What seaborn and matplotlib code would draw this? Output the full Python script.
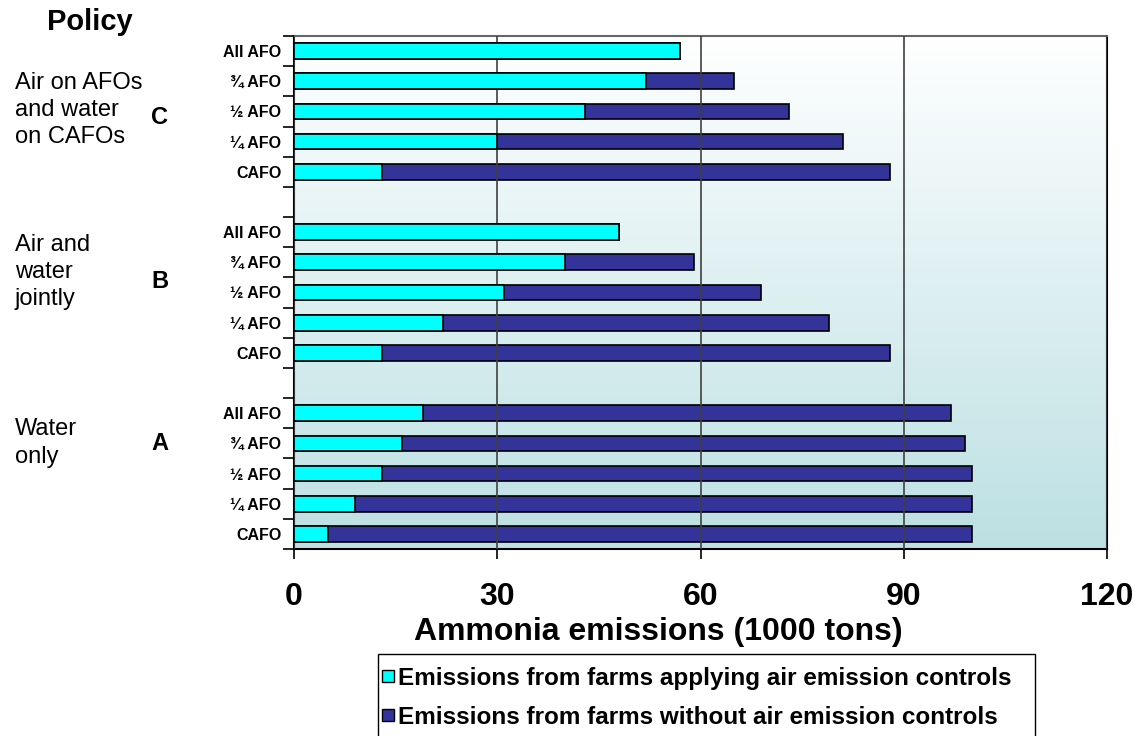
import numpy as np
import pandas as pd
import matplotlib
matplotlib.use('Agg')
import matplotlib.pyplot as plt
from matplotlib.colors import LinearSegmentedColormap
from matplotlib.patches import Rectangle
from matplotlib.lines import Line2D
import seaborn as sns

# bar labels inside each policy group (top to bottom)
bar_labels = ['All AFO', '\u00be AFO', '\u00bd AFO', '\u00bc AFO', 'CAFO']
groups = ['C', 'B', 'A']
group_names = ['Air on AFOs\nand water\non CAFOs', 'Air and\nwater\njointly', 'Water\nonly']

# emissions from farms applying air controls (1000 tons)
air_C = [57, 52, 43, 30, 13]
air_B = [48, 40, 31, 22, 13]
air_A = [19, 16, 13, 9, 5]
# total emissions (applying + without controls)
total_C = [57, 65, 73, 81, 88]
total_B = [48, 59, 69, 79, 88]
total_A = [97, 99, 100, 100, 100]

xticks = [0, 30, 60, 90, 120]

rows = []
pos = 0
for g, air, tot in zip(groups, [air_C, air_B, air_A], [total_C, total_B, total_A]):
    for lab, a, t in zip(bar_labels, air, tot):
        rows.append({'group': g, 'label': lab, 'pos': pos, 'air': a, 'total': t})
        pos += 1
    pos += 1  # empty slot between groups
df = pd.DataFrame(rows)
last = df['pos'].max()

sns.set_style('white')
plt.rcParams['font.family'] = ['Liberation Sans', 'DejaVu Sans']
plt.rcParams['text.color'] = 'black'
plt.rcParams['xtick.color'] = 'black'
plt.rcParams['ytick.color'] = 'black'
plt.rcParams['axes.labelcolor'] = 'black'

fig = plt.figure(figsize=(11.41, 7.36), dpi=100)
ax = fig.add_axes([294 / 1141, 1 - 549 / 736, 813 / 1141, 513 / 736])

# gradient plot area
cmap = LinearSegmentedColormap.from_list('bg', ['#ffffff', '#bce0e3'])
ax.imshow(np.linspace(0, 1, 256).reshape(-1, 1), cmap=cmap, aspect='auto',
          extent=[0, 1, 0, 1], transform=ax.transAxes, zorder=0)

dark = '#333399'
cyan = '#00ffff'
sns.barplot(data=df, x='total', y='pos', orient='y', native_scale=True,
            color=dark, edgecolor='black', linewidth=1.2, width=0.52,
            saturation=1, ax=ax, zorder=2)
sns.barplot(data=df, x='air', y='pos', orient='y', native_scale=True,
            color=cyan, edgecolor='black', linewidth=1.2, width=0.52,
            saturation=1, ax=ax, zorder=3)

ax.set_xlim(0, 120)
ax.set_ylim(last + 0.5, -0.5)
ax.set_xticks(xticks)
ax.set_xticklabels([str(v) for v in xticks], fontsize=23, fontweight='bold')
ax.tick_params(axis='x', direction='out', length=7, width=1.2, pad=17, bottom=True)

# boundaries get tick marks, bar centres get labels
ax.set_yticks(np.arange(-0.5, last + 1, 1))
ax.set_yticklabels([])
ax.tick_params(axis='y', which='major', direction='out', length=8, width=1.2, left=True)
ax.set_yticks(df['pos'], minor=True)
ax.set_yticklabels(df['label'], minor=True, fontsize=11.5, fontweight='bold')
ax.tick_params(axis='y', which='minor', length=0, pad=9)

ax.grid(axis='x', color='#404040', linewidth=1.2)
ax.grid(axis='y', visible=False)
ax.set_axisbelow(False)
for line in ax.get_xgridlines():
    line.set_zorder(1)

for side in ['left', 'bottom', 'right']:
    ax.spines[side].set_color('black')
    ax.spines[side].set_linewidth(1.5)
    ax.spines[side].set_visible(True)
ax.spines['top'].set_color('#666666')
ax.spines['top'].set_linewidth(1.5)
ax.spines['top'].set_visible(True)

ax.set_xlabel('Ammonia emissions (1000 tons)', fontsize=23, fontweight='bold')
ax.xaxis.set_label_coords((658 - 294) / 813, -(632 - 549) / 513)
ax.xaxis.label.set_va('center')
ax.set_ylabel('')

fig.text(90 / 1141, 1 - 22 / 736, 'Policy', fontsize=21, fontweight='bold',
         ha='center', va='center')
label_y = [110, 272, 443]
letter_y = [118, 281, 443]
for name, g, ly, gy in zip(group_names, groups, label_y, letter_y):
    fig.text(15 / 1141, 1 - ly / 736, name, fontsize=17, ha='left', va='center',
             linespacing=1.3)
    fig.text(160 / 1141, 1 - gy / 736, g, fontsize=17, fontweight='bold',
             ha='center', va='center')

# legend box runs off the bottom edge of the figure
fig.add_artist(Rectangle((378 / 1141, -0.05), (1035 - 378) / 1141, 0.05 + (736 - 654) / 736,
                         transform=fig.transFigure, fill=False, edgecolor='black',
                         linewidth=1.0))
handles = [Line2D([], [], linestyle='none', marker='s', markersize=8, markerfacecolor=c,
                  markeredgecolor='black', markeredgewidth=1.0, label=lab)
           for c, lab in [(cyan, 'Emissions from farms applying air emission controls'),
                          (dark, 'Emissions from farms without air emission controls')]]
leg = fig.legend(handles=handles, loc='upper left', bbox_to_anchor=(381 / 1141, 1 - 667 / 736),
                 frameon=False, prop={'weight': 'bold', 'size': 17.5},
                 handlelength=0.6, handletextpad=0.08,
                 labelspacing=0.65, borderpad=0, borderaxespad=0)

fig.savefig('out.png', dpi=100)
